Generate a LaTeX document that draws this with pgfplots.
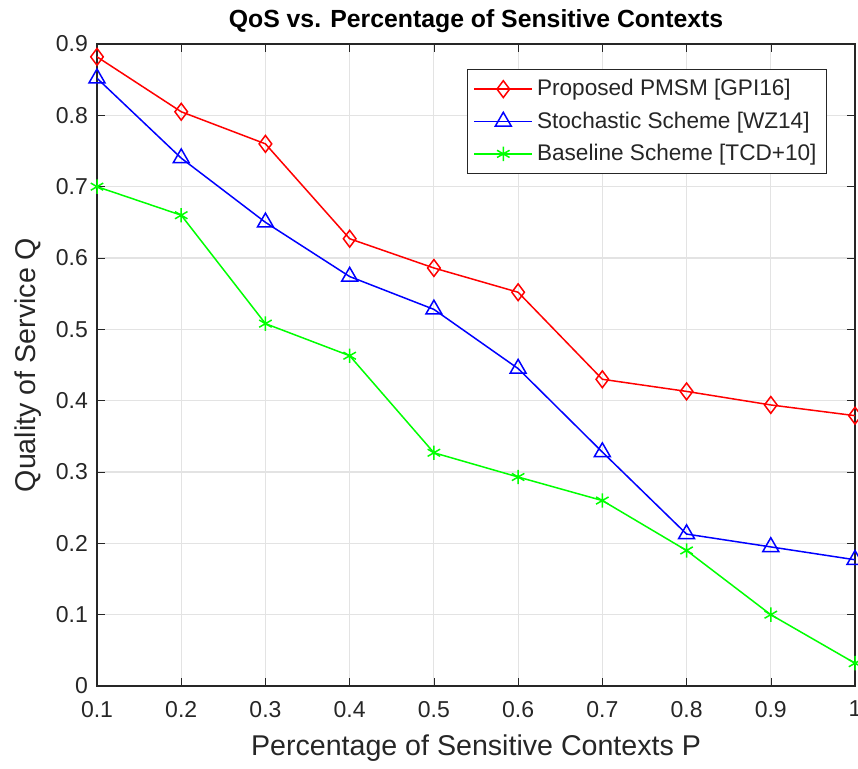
\documentclass[border=0pt]{standalone}
\usepackage{fontspec}
\setmainfont{Liberation Sans}
\usepackage{pgfplots}
\pgfplotsset{compat=1.18}
\definecolor{mgray}{RGB}{38,38,38}

\begin{document}
\begin{tikzpicture}
\begin{axis}[
scale only axis,
width=379pt,height=321pt,
xmin=0.1,xmax=1,ymin=0,ymax=0.9,
xtick={0.1,0.2,0.3,0.4,0.5,0.6,0.7,0.8,0.9,1},
ytick={0,0.1,0.2,0.3,0.4,0.5,0.6,0.7,0.8,0.9},
xticklabels={0.1,0.2,0.3,0.4,0.5,0.6,0.7,0.8,0.9,1},
yticklabels={0,0.1,0.2,0.3,0.4,0.5,0.6,0.7,0.8,0.9},
/pgf/number format/assume math mode=true,
tick align=inside,
tick pos=both,
major tick length=4pt,
grid=major,grid style={gray!22,line width=0.6pt},
axis line style={mgray,line width=0.6pt},
tick style={mgray},
tick label style={font=\fontsize{11.5}{13}\selectfont,text=mgray},
xticklabel style={yshift=-4pt},
yticklabel style={xshift=-1pt},
xlabel={Percentage of Sensitive Contexts P},
ylabel={Quality of Service Q},
label style={font=\fontsize{14.3}{16}\selectfont,text=mgray},
xlabel style={at={(axis description cs:0.5,-0.0966)},anchor=center},
ylabel style={at={(axis description cs:-0.091,0.5)},anchor=center},
title={\textbf{QoS vs. Percentage of Sensitive Contexts}},
title style={font=\fontsize{12.4}{14}\selectfont,at={(axis description cs:0.5,1.017)},anchor=center},
legend style={at={(0.963,0.961)},anchor=north east,font=\fontsize{11.3}{13}\selectfont,
  draw=mgray,fill=white,inner xsep=3pt,inner ysep=3pt,row sep=2.5pt,text=mgray},
legend cell align=left,
legend image code/.code={\draw[mark repeat=2,mark phase=2] plot coordinates {(0pt,0pt)(14.5pt,0pt)(29pt,0pt)};},
]
\addplot[red,line width=0.75pt,mark=diamond,mark size=4.2pt,mark options={solid}] coordinates {
(0.1,0.882)(0.2,0.805)(0.3,0.760)(0.4,0.627)(0.5,0.586)(0.6,0.552)(0.7,0.430)(0.8,0.413)(0.9,0.394)(1,0.379)};
\addlegendentry{Proposed PMSM [GPI16]}
\addplot[blue,line width=0.75pt,mark=triangle,mark size=4.6pt] coordinates {
(0.1,0.852)(0.2,0.740)(0.3,0.650)(0.4,0.574)(0.5,0.528)(0.6,0.445)(0.7,0.328)(0.8,0.213)(0.9,0.195)(1,0.177)};
\addlegendentry{Stochastic Scheme [WZ14]}
\addplot[green,line width=0.75pt,mark=asterisk,mark size=3.6pt] coordinates {
(0.1,0.700)(0.2,0.660)(0.3,0.508)(0.4,0.463)(0.5,0.327)(0.6,0.293)(0.7,0.260)(0.8,0.190)(0.9,0.100)(1,0.032)};
\addlegendentry{Baseline Scheme [TCD+10]}
\end{axis}
\pgfresetboundingbox
\path ([shift={(-48.5pt,-41pt)}]current axis.south west) rectangle ([shift={(1.5pt,22pt)}]current axis.north east);
\end{tikzpicture}
\end{document}
